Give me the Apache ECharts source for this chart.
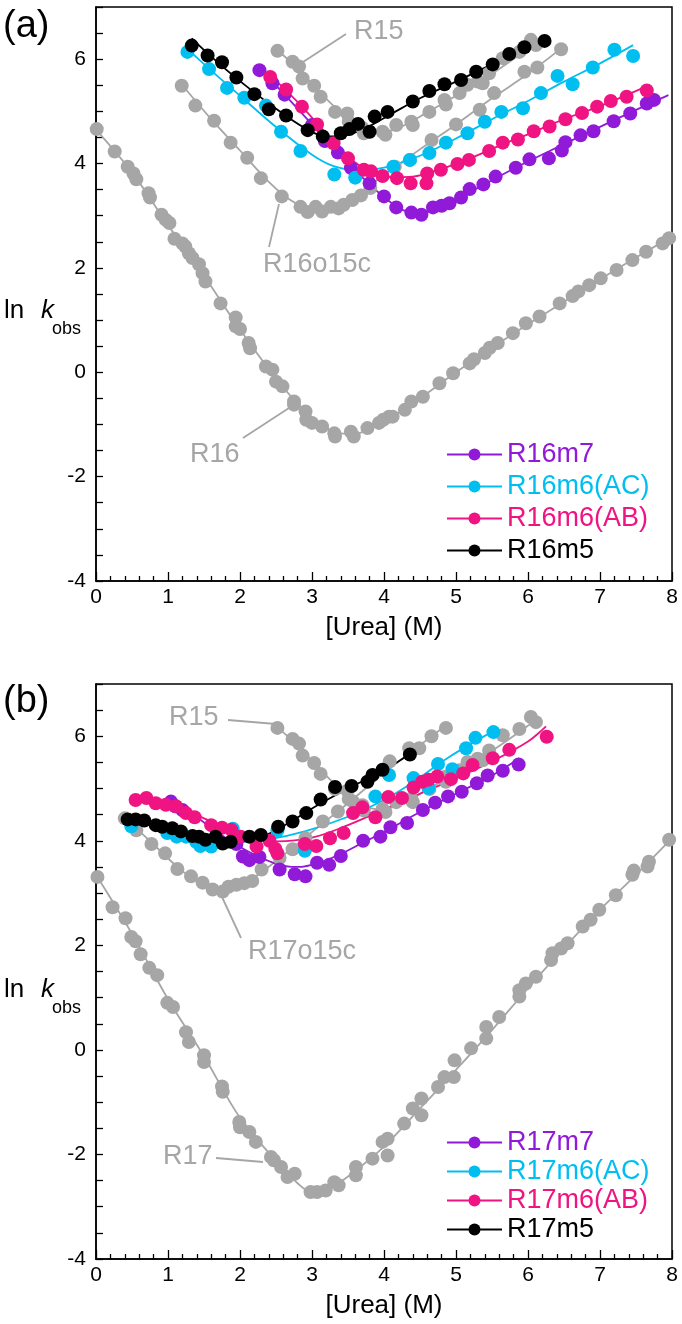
<!DOCTYPE html>
<html>
<head>
<meta charset="utf-8">
<script src="https://cdn.jsdelivr.net/npm/echarts@6/dist/echarts.min.js"></script>
<style>
  html, body { margin: 0; padding: 0; background: #fff; }
  #main { width: 682px; height: 1324px; }
</style>
</head>
<body>
<div id="main"></div>
<script>
// ---- data: [urea (M), ln kobs] ----

// R15 is the same set in both panels
var r15Pts = [[2.52,6.16],[2.73,5.95],[2.82,5.86],[2.87,5.63],[3.03,5.49],[3.12,5.28],[3.32,4.99],[3.49,4.96],[3.51,4.80],[3.70,4.68],[3.72,4.58],[3.98,4.61],[4.02,4.55],[4.17,4.74],[4.38,4.80],[4.40,4.74],[4.63,4.99],[4.84,5.22],[4.86,5.13],[5.05,5.35],[5.16,5.51],[5.30,5.57],[5.37,5.54],[5.46,5.73],[5.65,6.02],[5.88,6.14],[6.04,6.37],[6.11,6.27]];
var r15Fit = [[2.5,6.2],[2.8,5.82],[3.1,5.38],[3.4,4.98],[3.7,4.68],[3.95,4.6],[4.2,4.68],[4.6,4.98],[5.0,5.3],[5.5,5.72],[6.1,6.3]];

// panel (a)
var r16o15cPts = [[1.19,5.49],[1.38,5.11],[1.64,4.82],[1.87,4.40],[2.10,4.11],[2.29,3.72],[2.58,3.37],[2.84,3.17],[2.94,3.07],[3.05,3.17],[3.14,3.08],[3.26,3.17],[3.37,3.14],[3.44,3.21],[3.56,3.30],[3.68,3.39],[3.81,3.53],[4.15,3.94],[4.36,4.07],[4.66,4.45],[5.00,4.75],[5.33,5.03],[5.53,5.35],[5.95,5.76],[6.13,5.84],[6.46,6.19]];
var r16o15cFit = [[1.2,5.5],[1.6,4.85],[2.0,4.25],[2.4,3.65],[2.7,3.3],[3.0,3.12],[3.3,3.14],[3.6,3.33],[3.9,3.68],[4.2,3.98],[4.6,4.37],[5.0,4.75],[5.5,5.25],[6.0,5.72],[6.5,6.25]];
var r16Pts = [[0.01,4.66],[0.26,4.23],[0.44,3.94],[0.52,3.81],[0.56,3.70],[0.73,3.43],[0.75,3.35],[0.91,3.02],[0.97,2.92],[1.02,2.86],[1.09,2.56],[1.20,2.47],[1.24,2.41],[1.29,2.28],[1.34,2.19],[1.43,2.07],[1.48,1.90],[1.52,1.74],[1.73,1.32],[1.94,1.05],[1.94,0.88],[2.00,0.83],[2.12,0.56],[2.14,0.46],[2.36,0.11],[2.45,0.05],[2.50,-0.18],[2.59,-0.27],[2.75,-0.56],[2.75,-0.62],[2.91,-0.75],[2.92,-0.91],[3.00,-0.97],[3.14,-1.04],[3.31,-1.17],[3.32,-1.23],[3.54,-1.14],[3.58,-1.23],[3.77,-1.07],[3.93,-0.97],[3.99,-0.91],[4.07,-0.85],[4.12,-0.85],[4.29,-0.72],[4.38,-0.56],[4.54,-0.47],[4.77,-0.21],[4.96,-0.02],[5.19,0.17],[5.25,0.25],[5.40,0.37],[5.47,0.47],[5.58,0.56],[5.79,0.75],[5.97,0.94],[6.16,1.07],[6.44,1.32],[6.62,1.46],[6.70,1.55],[6.85,1.67],[7.01,1.80],[7.23,1.96],[7.45,2.15],[7.64,2.31],[7.87,2.47],[7.96,2.57]];
var r16Fit = [[0,4.65],[0.5,3.83],[1.0,2.82],[1.5,1.85],[2.0,0.82],[2.5,-0.12],[2.8,-0.6],[3.1,-0.98],[3.4,-1.17],[3.6,-1.18],[3.9,-1.0],[4.2,-0.78],[4.6,-0.4],[5.0,0.0],[5.5,0.47],[6.0,0.92],[6.5,1.35],[7.0,1.78],[7.5,2.2],[8.0,2.6]];

var r16m7Pts = [[2.27,5.79],[2.45,5.54],[2.62,5.32],[3.0,4.74],[3.18,4.43],[3.36,4.21],[3.54,3.92],[3.80,3.62],[4.0,3.37],[4.17,3.16],[4.38,3.06],[4.52,3.02],[4.68,3.16],[4.80,3.19],[4.91,3.24],[5.07,3.35],[5.19,3.51],[5.38,3.60],[5.55,3.75],[5.83,3.92],[6.02,4.08],[6.29,4.10],[6.47,4.25],[6.52,4.41],[6.73,4.54],[6.91,4.62],[7.19,4.81],[7.42,4.96],[7.65,5.15],[7.75,5.22]];
var r16m7Fit = [[2.25,5.85],[2.6,5.35],[3.0,4.75],[3.4,4.15],[3.8,3.6],[4.1,3.25],[4.35,3.08],[4.6,3.08],[4.9,3.22],[5.3,3.53],[5.8,3.9],[6.3,4.24],[6.8,4.57],[7.3,4.9],[7.95,5.31]];
var r16acPts = [[1.27,6.14],[1.57,5.81],[1.82,5.45],[2.06,5.26],[2.36,5.11],[2.57,4.61],[2.84,4.24],[3.31,3.79],[3.60,3.73],[4.13,3.94],[4.36,4.07],[4.63,4.20],[4.86,4.40],[5.16,4.58],[5.40,4.80],[5.63,4.99],[5.93,5.06],[6.18,5.35],[6.41,5.68],[6.62,5.52],[6.90,5.84],[7.20,6.18],[7.46,6.06]];
var r16acFit = [[1.25,6.22],[1.6,5.78],[2.0,5.3],[2.5,4.7],[3.0,4.17],[3.3,3.95],[3.6,3.88],[4.0,3.92],[4.5,4.15],[5.0,4.48],[5.5,4.85],[6.0,5.2],[6.5,5.57],[7.0,5.92],[7.46,6.27]];
var r16abPts = [[2.42,5.66],[2.64,5.42],[2.86,5.09],[3.07,4.75],[3.30,4.39],[3.50,4.10],[3.72,3.88],[3.82,3.85],[3.98,3.76],[4.18,3.72],[4.37,3.62],[4.59,3.62],[4.60,3.81],[4.79,3.88],[5.02,3.99],[5.18,4.07],[5.46,4.24],[5.65,4.40],[5.86,4.46],[6.08,4.62],[6.30,4.71],[6.52,4.85],[6.75,4.97],[6.96,5.09],[7.15,5.20],[7.37,5.28],[7.65,5.40]];
var r16abFit = [[2.4,5.72],[2.8,5.18],[3.2,4.57],[3.5,4.13],[3.8,3.85],[4.1,3.74],[4.4,3.75],[4.8,3.9],[5.2,4.1],[5.6,4.34],[6.0,4.56],[6.5,4.85],[7.0,5.1],[7.63,5.47]];
var r16m5Pts = [[1.33,6.26],[1.55,6.07],[1.75,5.94],[1.95,5.65],[2.20,5.33],[2.40,5.04],[2.64,4.92],[2.94,4.64],[3.15,4.52],[3.40,4.58],[3.52,4.66],[3.64,4.76],[3.80,4.61],[3.87,4.90],[4.05,4.99],[4.40,5.19],[4.63,5.39],[4.84,5.52],[5.07,5.60],[5.28,5.76],[5.51,5.90],[5.74,6.10],[5.95,6.23],[6.23,6.35]];
var r16m5Fit = [[1.33,6.4],[1.6,6.05],[2.0,5.58],[2.5,5.05],[2.9,4.68],[3.2,4.52],[3.5,4.55],[3.8,4.72],[4.1,4.95],[4.5,5.25],[5.0,5.57],[5.5,5.9],[6.0,6.2],[6.25,6.37]];

// panel (b)
var r17o15cPts = [[0.40,4.43],[0.56,4.20],[0.77,3.94],[0.96,3.76],[1.13,3.46],[1.32,3.32],[1.48,3.20],[1.62,3.07],[1.76,3.03],[1.84,3.12],[1.95,3.16],[2.06,3.19],[2.17,3.23],[2.30,3.45],[2.55,3.67],[2.73,3.84],[2.91,4.05],[3.15,4.37],[3.36,4.56],[3.57,4.75],[4.08,5.52],[4.35,5.77],[4.49,5.77],[4.66,6.0],[4.86,6.16]];
var r17o15cFit = [[0.4,4.45],[0.8,3.93],[1.2,3.42],[1.5,3.17],[1.75,3.05],[2.0,3.13],[2.3,3.4],[2.6,3.72],[3.0,4.17],[3.5,4.72],[4.0,5.3],[4.5,5.83],[4.9,6.25]];
var r17Pts = [[0.02,3.31],[0.23,2.73],[0.41,2.52],[0.49,2.16],[0.55,2.08],[0.62,1.83],[0.74,1.57],[0.85,1.43],[0.99,0.90],[1.07,0.82],[1.25,0.34],[1.29,0.15],[1.50,-0.10],[1.50,-0.23],[1.75,-0.70],[1.76,-0.80],[1.99,-1.38],[2.00,-1.48],[2.13,-1.57],[2.22,-1.76],[2.43,-2.05],[2.47,-2.11],[2.57,-2.24],[2.66,-2.43],[2.76,-2.37],[2.98,-2.72],[3.07,-2.72],[3.19,-2.69],[3.31,-2.53],[3.37,-2.59],[3.61,-2.24],[3.61,-2.40],[3.84,-2.08],[3.98,-1.76],[4.05,-2.02],[4.05,-1.70],[4.28,-1.41],[4.40,-1.12],[4.52,-1.25],[4.52,-0.93],[4.75,-0.71],[4.84,-0.52],[4.97,-0.52],[4.98,-0.20],[5.21,0.03],[5.42,0.22],[5.42,0.44],[5.60,0.63],[5.88,1.02],[5.88,1.14],[5.97,1.27],[6.11,1.40],[6.32,1.72],[6.34,1.85],[6.46,1.94],[6.55,2.04],[6.76,2.36],[6.87,2.49],[6.99,2.68],[7.22,2.96],[7.45,3.35],[7.47,3.43],[7.66,3.51],[7.68,3.60],[7.96,4.02]];
var r17Fit = [[0,3.35],[0.5,2.22],[1.0,0.97],[1.5,-0.12],[2.0,-1.3],[2.5,-2.12],[2.8,-2.55],[3.0,-2.72],[3.2,-2.68],[3.5,-2.42],[4.0,-1.85],[4.5,-1.12],[5.0,-0.38],[5.5,0.38],[6.0,1.18],[6.5,1.95],[7.0,2.68],[7.5,3.35],[8.0,4.05]];

var r17m7Pts = [[1.04,4.75],[1.10,4.66],[1.20,4.59],[1.95,3.94],[2.04,3.70],[2.13,3.63],[2.27,3.69],[2.55,3.45],[2.76,3.36],[2.91,3.32],[3.07,3.58],[3.24,3.54],[3.40,3.71],[3.71,4.00],[3.95,4.08],[4.09,4.26],[4.32,4.34],[4.54,4.59],[4.71,4.73],[4.89,4.85],[5.08,4.94],[5.29,5.10],[5.44,5.25],[5.65,5.34],[5.87,5.46]];
var r17m7Fit = [[1.05,4.85],[1.5,4.35],[2.0,3.88],[2.5,3.56],[2.8,3.5],[3.1,3.58],[3.4,3.75],[3.7,3.96],[4.0,4.17],[4.5,4.55],[5.0,4.9],[5.5,5.25],[5.88,5.58]];
var r17acPts = [[0.49,4.28],[0.99,4.15],[1.12,4.08],[1.25,4.08],[1.39,3.98],[1.45,3.90],[1.60,3.89],[1.90,4.23],[2.52,4.20],[2.90,3.81],[3.88,4.85],[4.07,5.26],[4.41,5.20],[4.62,5.01],[4.75,5.47],[4.95,5.37],[5.14,5.77],[5.27,5.97],[5.52,6.08]];
var r17acFit = [[0.45,4.42],[1.0,4.22],[1.5,4.05],[2.0,3.98],[2.4,4.03],[2.9,4.18],[3.5,4.46],[4.0,4.78],[4.4,5.12],[4.9,5.6],[5.48,6.07]];
var r17abPts = [[0.55,4.78],[0.70,4.82],[0.83,4.72],[0.97,4.69],[1.11,4.66],[1.25,4.53],[1.37,4.45],[1.60,4.30],[1.75,4.25],[1.88,4.21],[2.01,4.08],[2.23,3.89],[2.41,4.00],[2.49,3.85],[2.52,3.76],[2.90,3.94],[3.06,3.90],[3.25,4.05],[3.44,4.15],[3.57,4.53],[3.70,4.64],[3.88,4.45],[4.06,4.84],[4.25,4.82],[4.41,5.02],[4.53,5.13],[4.62,5.17],[4.74,5.23],[4.93,5.18],[5.10,5.29],[5.23,5.45],[5.51,5.58],[5.74,5.74],[6.26,5.99]];
var r17abFit = [[0.5,4.85],[1.0,4.72],[1.5,4.43],[2.0,4.13],[2.5,3.99],[3.0,4.06],[3.5,4.3],[4.0,4.6],[4.5,4.9],[5.0,5.2],[5.5,5.52],[6.0,5.9],[6.25,6.19]];
var r17m5Pts = [[0.44,4.41],[0.55,4.41],[0.67,4.39],[0.83,4.30],[0.92,4.27],[1.06,4.24],[1.18,4.18],[1.34,4.09],[1.43,4.08],[1.52,4.02],[1.66,4.08],[1.76,3.95],[1.87,3.98],[2.13,4.08],[2.29,4.11],[2.53,4.27],[2.73,4.37],[2.92,4.53],[3.12,4.79],[3.32,5.03],[3.55,5.05],[3.77,5.13],[3.84,5.26],[3.98,5.36],[4.36,5.65]];
var r17m5Fit = [[0.45,4.44],[1.0,4.27],[1.5,4.08],[1.9,4.0],[2.3,4.08],[2.7,4.36],[3.0,4.62],[3.5,5.0],[4.0,5.35],[4.4,5.7]];

var namesA = ['R16m7', 'R16m6(AC)', 'R16m6(AB)', 'R16m5'];
var namesB = ['R17m7', 'R17m6(AC)', 'R17m6(AB)', 'R17m5'];

var FONT = 'Liberation Sans, Arial, Helvetica, sans-serif';
var GREY = '#a6a6a6';
var PURPLE = '#9119d8';
var CYAN = '#00bff0';
var MAGENTA = '#ef1481';
var BLACK = '#000000';
var colors = [PURPLE, CYAN, MAGENTA, BLACK];

var myChart = echarts.init(document.getElementById('main'));

function fitLine(name, data, color, ax) {
    return {
        name: name, type: 'line', xAxisIndex: ax, yAxisIndex: ax,
        data: data, smooth: 0.35, showSymbol: false, symbol: 'circle',
        lineStyle: { color: color, width: 1.8 }, itemStyle: { color: color },
        silent: true, z: 2
    };
}
function dots(name, data, color, ax) {
    return {
        name: name + ' pts', type: 'scatter', xAxisIndex: ax, yAxisIndex: ax,
        data: data, symbolSize: 14, itemStyle: { color: color, opacity: 1 },
        silent: true, z: 3
    };
}

function xAx(idx) {
    return {
        gridIndex: idx, type: 'value', min: 0, max: 8, interval: 1,
        axisLine: { onZero: false, lineStyle: { color: '#000', width: 1.5 } },
        axisTick: { inside: true, length: 9, lineStyle: { color: '#000', width: 1.3 } },
        minorTick: { show: true, splitNumber: 5, length: 5, lineStyle: { color: '#000', width: 1.3 } },
        splitLine: { show: false },
        axisLabel: { fontSize: 21, color: '#000', margin: 6, fontFamily: FONT },
        name: '[Urea] (M)', nameLocation: 'middle', nameGap: 34,
        nameTextStyle: { fontSize: 26, color: '#000', fontFamily: FONT }
    };
}
function yAx(idx) {
    return {
        gridIndex: idx, type: 'value', min: -4, max: 7, interval: 0.5,
        axisLine: { onZero: false, lineStyle: { color: '#000', width: 1.5 } },
        axisTick: { inside: true, length: 7, lineStyle: { color: '#000', width: 1.3 } },
        splitLine: { show: false },
        axisLabel: {
            fontSize: 21, color: '#000', margin: 10, fontFamily: FONT,
            formatter: function (v) { return (Math.abs(v % 2) < 1e-9) ? String(v) : ''; }
        }
    };
}

function legendFor(names, top, gap) {
    return {
        orient: 'vertical', left: 441, top: top, itemWidth: 55, itemHeight: 15,
        itemGap: gap, selectedMode: false,
        textStyle: { fontSize: 27, fontFamily: FONT },
        data: names.map(function (n, i) { return { name: n, textStyle: { color: colors[i] } }; })
    };
}

var seriesA = [
    fitLine('R15', r15Fit, GREY, 0), dots('R15', r15Pts, GREY, 0),
    fitLine('R16o15c', r16o15cFit, GREY, 0), dots('R16o15c', r16o15cPts, GREY, 0),
    fitLine('R16', r16Fit, GREY, 0), dots('R16', r16Pts, GREY, 0),
    fitLine(namesA[0], r16m7Fit, PURPLE, 0), dots(namesA[0], r16m7Pts, PURPLE, 0),
    fitLine(namesA[1], r16acFit, CYAN, 0), dots(namesA[1], r16acPts, CYAN, 0),
    fitLine(namesA[2], r16abFit, MAGENTA, 0), dots(namesA[2], r16abPts, MAGENTA, 0),
    fitLine(namesA[3], r16m5Fit, BLACK, 0), dots(namesA[3], r16m5Pts, BLACK, 0)
];
var seriesB = [
    fitLine('R15 b', r15Fit, GREY, 1), dots('R15 b', r15Pts, GREY, 1),
    fitLine('R17o15c', r17o15cFit, GREY, 1), dots('R17o15c', r17o15cPts, GREY, 1),
    fitLine('R17', r17Fit, GREY, 1), dots('R17', r17Pts, GREY, 1),
    fitLine(namesB[0], r17m7Fit, PURPLE, 1), dots(namesB[0], r17m7Pts, PURPLE, 1),
    fitLine(namesB[1], r17acFit, CYAN, 1), dots(namesB[1], r17acPts, CYAN, 1),
    fitLine(namesB[2], r17abFit, MAGENTA, 1), dots(namesB[2], r17abPts, MAGENTA, 1),
    fitLine(namesB[3], r17m5Fit, BLACK, 1), dots(namesB[3], r17m5Pts, BLACK, 1)
];

function txt(s, x, y, size, color, italic) {
    return {
        type: 'text', x: x, y: y, silent: true,
        style: { text: s, fill: color, fontSize: size, fontFamily: FONT,
                 fontStyle: italic ? 'italic' : 'normal', verticalAlign: 'middle' }
    };
}
function seg(x1, y1, x2, y2) {
    return { type: 'line', silent: true, shape: { x1: x1, y1: y1, x2: x2, y2: y2 },
             style: { stroke: GREY, lineWidth: 1.8 } };
}

var graphics = [
    txt('(a)', 3, 27, 38, '#000'),
    txt('(b)', 3, 702, 38, '#000'),
    txt('ln', 4, 311, 26, '#000'), txt('k', 41, 311, 26, '#000', true), txt('obs', 52, 329, 18, '#000'),
    txt('ln', 4, 990, 26, '#000'), txt('k', 41, 990, 26, '#000', true), txt('obs', 52, 1008, 18, '#000'),
    txt('R15', 354, 32, 27, GREY), seg(346, 34, 303, 62),
    txt('R16o15c', 263, 265, 27, GREY), seg(269, 247, 279, 204),
    txt('R16', 190, 455, 27, GREY), seg(243, 438, 289, 408),
    txt('R15', 169, 718, 27, GREY), seg(228, 720, 276, 724),
    txt('R17o15c', 248, 952, 27, GREY), seg(241, 938, 222, 897),
    txt('R17', 163, 1157, 27, GREY), seg(216, 1158, 263, 1162)
];

var option = {
    animation: false,
    backgroundColor: '#fff',
    grid: [
        { left: 96, right: 10, top: 7, height: 574, show: true, borderColor: '#000', borderWidth: 1.5 },
        { left: 96, right: 10, top: 684, height: 575, show: true, borderColor: '#000', borderWidth: 1.5 }
    ],
    xAxis: [xAx(0), xAx(1)],
    yAxis: [yAx(0), yAx(1)],
    legend: [legendFor(namesA, 436, 5), legendFor(namesB, 1124, 2)],
    series: seriesA.concat(seriesB),
    graphic: graphics
};
myChart.setOption(option);
</script>
</body>
</html>
